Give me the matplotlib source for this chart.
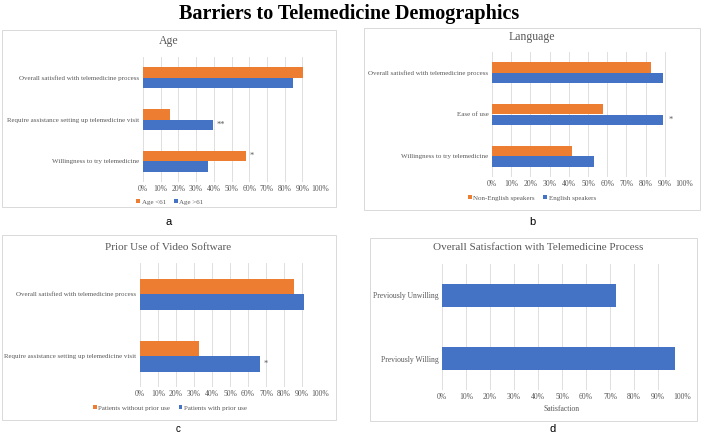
# barriers - recreate the four-panel telemedicine bar chart

# require
import matplotlib
matplotlib.use( 'Agg' )
import matplotlib.pyplot as plt
from matplotlib.patches import Rectangle

# data; panel a, age
AGE_CATEGORIES = [ 'Overall satisfied with telemedicine process', 'Require assistance setting up telemedicine visit', 'Willingness to try telemedicine' ]
AGE_UNDER      = [ 0.905, 0.155, 0.58 ]
AGE_OVER       = [ 0.845, 0.395, 0.365 ]
AGE_LEGEND     = [ 'Age <61', 'Age >61' ]

# panel b, language
LANGUAGE_CATEGORIES = [ 'Overall satisfied with telemedicine process', 'Ease of use', 'Willingness to try telemedicine' ]
LANGUAGE_NON        = [ 0.83, 0.58, 0.415 ]
LANGUAGE_ENGLISH    = [ 0.89, 0.89, 0.53 ]
LANGUAGE_LEGEND     = [ 'Non-English speakers', 'English speakers' ]

# panel c, prior use of video software
PRIOR_CATEGORIES = [ 'Overall satisfied with telemedicine process', 'Require assistance setting up telemedicine visit' ]
PRIOR_WITHOUT    = [ 0.855, 0.33 ]
PRIOR_WITH       = [ 0.91, 0.665 ]
PRIOR_LEGEND     = [ 'Patients without prior use', 'Patients with prior use' ]

# panel d, overall satisfaction
SATISFACTION_CATEGORIES = [ 'Previously Unwilling', 'Previously Willing' ]
SATISFACTION_VALUES     = [ 0.725, 0.97 ]

TICKS  = [ i / 10 for i in range( 11 ) ]
LABELS = [ '%d%%' % ( i * 10 ) for i in range( 11 ) ]

# configure
W, H    = 708, 434
ORANGE  = '#ED7D31'
BLUE    = '#4472C4'
GRAY    = '#595959'
GRID    = '#d9d9d9'
SERIF   = 'Liberation Serif'
SANS    = 'Liberation Sans'
SMALL   = 5.0
TICK    = 5.5

# convert pixels to figure fractions
def fx( x ) : return x / W
def fy( y ) : return 1 - y / H

# draw a light box around a chart
def box( figure, left, top, right, bottom ) :
	figure.patches.append( Rectangle( ( fx( left ), fy( bottom ) ), fx( right - left ), ( bottom - top ) / H,
		transform=figure.transFigure, fill=False, edgecolor=GRID, linewidth=0.7 ) )

# add a chart's axes given pixel extents of the plot area
def panel( figure, left, top, right, bottom, count ) :
	axis = figure.add_axes( [ fx( left ), fy( bottom ), fx( right - left ), ( bottom - top ) / H ] )
	axis.set_xlim( 0, 1 )
	axis.set_ylim( count - 0.5, -0.5 )
	axis.set_xticks( TICKS )
	axis.set_xticklabels( LABELS, fontsize=TICK, family=SERIF, color=GRAY )
	axis.tick_params( length=0, pad=2.5 )
	axis.grid( axis='x', color=GRID, linewidth=0.6 )
	axis.set_axisbelow( True )
	for spine in axis.spines.values() : spine.set_visible( False )
	return axis

# two series per category, orange above blue
def pair( axis, categories, first, second ) :
	positions = list( range( len( categories ) ) )
	top    = axis.barh( [ p - 0.125 for p in positions ], first, height=0.25, color=ORANGE )
	bottom = axis.barh( [ p + 0.125 for p in positions ], second, height=0.25, color=BLUE )
	axis.set_yticks( positions )
	axis.set_yticklabels( categories, fontsize=SMALL, family=SERIF, color=GRAY )
	return top, bottom

def legend( axis, handles, labels, x, y ) :
	axis.legend( handles, labels, loc='center', bbox_to_anchor=( fx( x ), fy( y ) ), bbox_transform=axis.figure.transFigure,
		ncol=2, frameon=False, handlelength=0.55, handleheight=0.55, handletextpad=0.2, columnspacing=1.2,
		prop={ 'family' : SERIF, 'size' : SMALL }, labelcolor=GRAY )

def star( axis, x, y, text ) :
	axis.text( x, y, text, fontsize=6, family=SERIF, color=GRAY, va='center', ha='left' )

# initialize
figure = plt.figure( figsize=( W / 100, H / 100 ), dpi=100 )
figure.text( fx( 349 ), fy( 14 ), 'Barriers to Telemedicine Demographics', ha='center', va='center',
	family=SERIF, fontweight='bold', fontsize=14.5 )

# panel a
box( figure, 2, 30, 336, 207 )
axis = panel( figure, 143, 57, 320, 182, 3 )
handles = pair( axis, AGE_CATEGORIES, AGE_UNDER, AGE_OVER )
star( axis, AGE_OVER[ 1 ] + 0.02, 1.125, '**' )
star( axis, AGE_UNDER[ 2 ] + 0.02, 1.875, '*' )
legend( axis, handles, AGE_LEGEND, 170, 202 )
figure.text( fx( 169 ), fy( 41 ), 'Age', ha='center', va='center', family=SERIF, fontsize=8.5, color=GRAY )
figure.text( fx( 169 ), fy( 222 ), 'a', ha='center', va='center', family=SANS, fontsize=8 )

# panel b
box( figure, 364, 28, 700, 210 )
axis = panel( figure, 492, 52, 684, 177, 3 )
handles = pair( axis, LANGUAGE_CATEGORIES, LANGUAGE_NON, LANGUAGE_ENGLISH )
star( axis, LANGUAGE_ENGLISH[ 1 ] + 0.03, 1.125, '*' )
legend( axis, handles, LANGUAGE_LEGEND, 532, 198 )
figure.text( fx( 532 ), fy( 37 ), 'Language', ha='center', va='center', family=SERIF, fontsize=8.5, color=GRAY )
figure.text( fx( 532 ), fy( 222 ), 'b', ha='center', va='center', family=SANS, fontsize=8 )

# panel c
box( figure, 2, 235, 336, 420 )
axis = panel( figure, 140, 263, 320, 387, 2 )
handles = pair( axis, PRIOR_CATEGORIES, PRIOR_WITHOUT, PRIOR_WITH )
star( axis, PRIOR_WITH[ 1 ] + 0.02, 1.125, '*' )
legend( axis, handles, PRIOR_LEGEND, 170, 408 )
figure.text( fx( 168 ), fy( 247 ), 'Prior Use of Video Software', ha='center', va='center', family=SERIF, fontsize=8, color=GRAY )
figure.text( fx( 178 ), fy( 429 ), 'c', ha='center', va='center', family=SANS, fontsize=7 )

# panel d
box( figure, 370, 238, 697, 421 )
axis = panel( figure, 442, 264, 682, 390, 2 )
axis.barh( range( len( SATISFACTION_CATEGORIES ) ), SATISFACTION_VALUES, height=0.35, color=BLUE )
axis.set_yticks( range( len( SATISFACTION_CATEGORIES ) ) )
axis.set_yticklabels( SATISFACTION_CATEGORIES, fontsize=5.5, family=SERIF, color=GRAY )
axis.set_xlabel( 'Satisfaction', fontsize=5.5, family=SERIF, color=GRAY, labelpad=2.5 )
figure.text( fx( 538 ), fy( 248 ), 'Overall Satisfaction with Telemedicine Process', ha='center', va='center', family=SERIF, fontsize=8, color=GRAY )
figure.text( fx( 553 ), fy( 429 ), 'd', ha='center', va='center', family=SANS, fontsize=8 )

# save
figure.savefig( 'out.png', dpi=100 )
